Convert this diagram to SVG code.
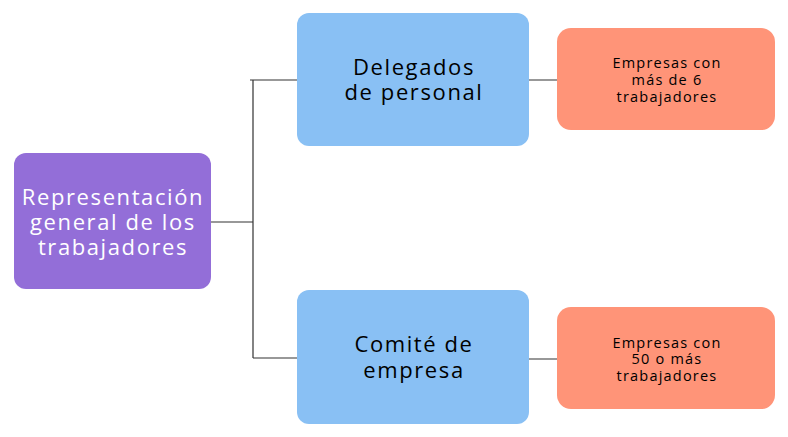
<svg xmlns="http://www.w3.org/2000/svg" width="788" height="437" viewBox="0 0 788 437">
<style>
.t{font-family:"Open Sans","Liberation Sans",sans-serif;text-anchor:middle;font-weight:500}
.big{font-size:22px;letter-spacing:1.6px}
.small{font-size:14.5px;letter-spacing:1.2px}
.c{stroke:#333;stroke-width:1.2;fill:none}
</style>
<rect width="788" height="437" fill="#fff"/>
<g id="connectors">
<path class="c" d="M211 222H253M253 80V358M250 80H297M253 358H297M529 80H557M529 359H557"/>
</g>
<g id="root">
<rect x="14" y="153" width="197" height="136" rx="12" fill="#936ED8"/>
<text class="t big" fill="#fff" x="113" y="205">Representación</text>
<text class="t big" fill="#fff" x="113" y="230">general de los</text>
<text class="t big" fill="#fff" x="113" y="255">trabajadores</text>
</g>
<g id="delegados">
<rect x="297" y="13" width="232" height="133" rx="12" fill="#89C0F4"/>
<text class="t big" x="414" y="75">Delegados</text>
<text class="t big" x="414" y="100">de personal</text>
</g>
<g id="comite">
<rect x="297" y="290" width="232" height="134" rx="12" fill="#89C0F4"/>
<text class="t big" x="414" y="352">Comité de</text>
<text class="t big" x="414" y="378">empresa</text>
</g>
<g id="empresas6">
<rect x="557" y="28" width="218" height="102" rx="14" fill="#FF9478"/>
<text class="t small" x="667" y="68">Empresas con</text>
<text class="t small" x="667" y="85">más de 6</text>
<text class="t small" x="667" y="102">trabajadores</text>
</g>
<g id="empresas50">
<rect x="557" y="307" width="218" height="102" rx="14" fill="#FF9478"/>
<text class="t small" x="667" y="348">Empresas con</text>
<text class="t small" x="667" y="364">50 o más</text>
<text class="t small" x="667" y="381">trabajadores</text>
</g>
</svg>
